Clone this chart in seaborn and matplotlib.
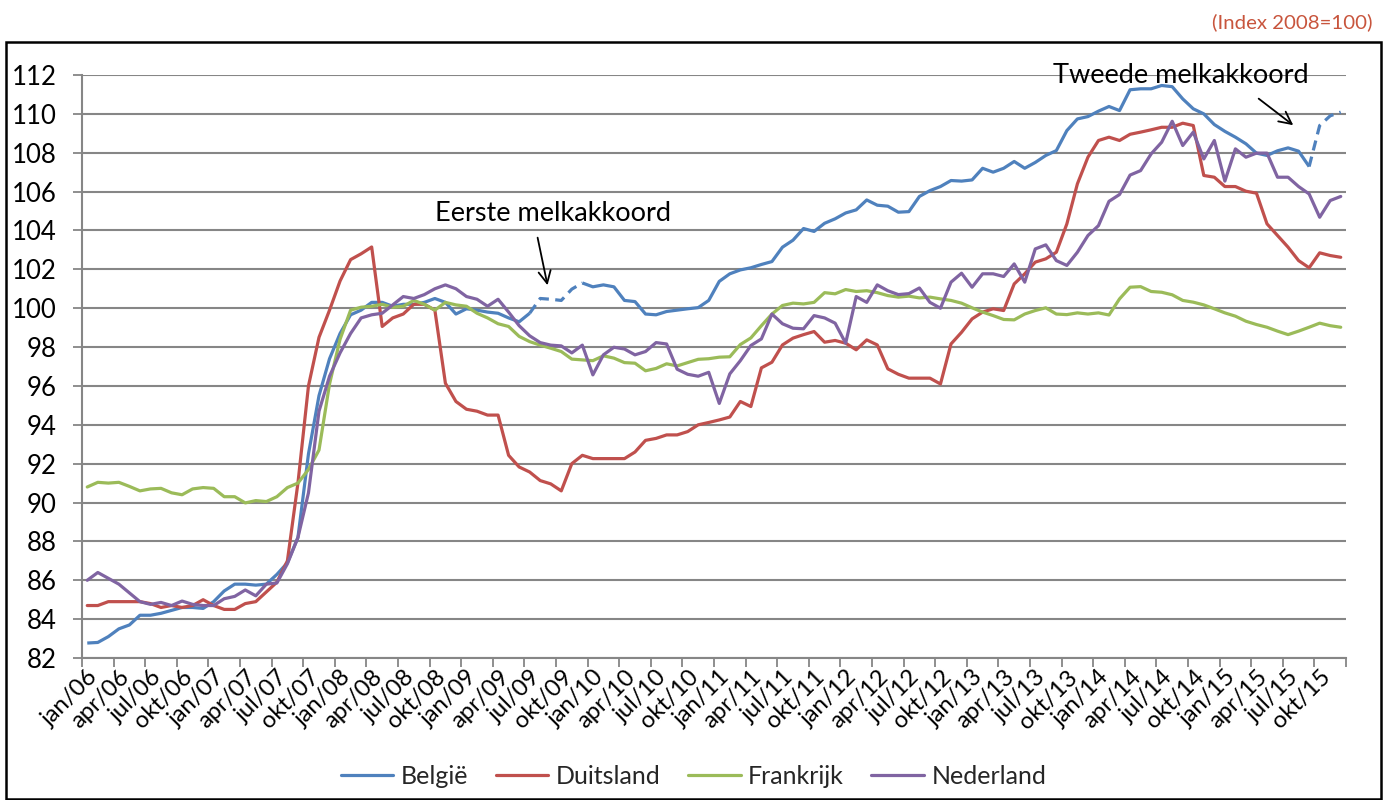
import numpy as np
import pandas as pd
import matplotlib
matplotlib.use("Agg")
import matplotlib.pyplot as plt
from matplotlib.lines import Line2D
from matplotlib.patches import Rectangle
import seaborn as sns

# ---------------- data ----------------
months = ["jan", "feb", "mrt", "apr", "mei", "jun", "jul", "aug", "sep", "okt", "nov", "dec"]
years = ["06", "07", "08", "09", "10", "11", "12", "13", "14", "15"]
categories = [f"{m}/{y}" for y in years for m in months]

belgie = [82.77, 82.8, 83.1, 83.5, 83.7, 84.2, 84.2, 84.3, 84.45, 84.6, 84.6, 84.55,
          84.9, 85.45, 85.8, 85.8, 85.75, 85.8, 86.3, 86.9, 88.2, 92.5, 95.5, 97.4,
          98.7, 99.66, 99.9, 100.3, 100.3, 100.1, 100.2, 100.2, 100.3, 100.5, 100.3, 99.7,
          99.97, 99.9, 99.8, 99.74, 99.5, 99.3, 99.74, 100.5, 100.46, 100.4, 100.98, 101.3,
          101.1, 101.2, 101.1, 100.4, 100.34, 99.7, 99.66, 99.83, 99.9, 99.97, 100.03, 100.4,
          101.38, 101.77, 101.97, 102.08, 102.25, 102.4, 103.14, 103.5, 104.1, 103.95, 104.37, 104.6,
          104.9, 105.06, 105.57, 105.3, 105.25, 104.94, 104.97, 105.75, 106.05, 106.26, 106.57, 106.54,
          106.6, 107.2, 107.0, 107.2, 107.55, 107.2, 107.5, 107.86, 108.11, 109.14, 109.74, 109.86,
          110.14, 110.38, 110.17, 111.24, 111.29, 111.29, 111.46, 111.4, 110.77, 110.26, 110.0, 109.45,
          109.1, 108.8, 108.46, 107.98, 107.86, 108.1, 108.25, 108.08, 107.29, 109.4, 109.9, 110.09]

duitsland = [84.7, 84.7, 84.9, 84.9, 84.9, 84.9, 84.8, 84.6, 84.7, 84.6, 84.7, 85.0,
             84.7, 84.5, 84.5, 84.8, 84.9, 85.4, 85.9, 87.0, 91.0, 96.0, 98.5, 99.9,
             101.4, 102.5, 102.8, 103.15, 99.06, 99.5, 99.7, 100.2, 100.2, 99.9, 96.14, 95.2,
             94.8, 94.7, 94.5, 94.5, 92.43, 91.83, 91.57, 91.13, 90.96, 90.6, 92.0, 92.43,
             92.26, 92.26, 92.26, 92.26, 92.6, 93.2, 93.3, 93.48, 93.48, 93.65, 94.0, 94.12,
             94.25, 94.4, 95.2, 94.94, 96.93, 97.22, 98.11, 98.46, 98.64, 98.8, 98.25, 98.34,
             98.2, 97.86, 98.37, 98.11, 96.88, 96.6, 96.4, 96.4, 96.4, 96.1, 98.16, 98.76,
             99.45, 99.8, 99.97, 99.88, 101.25, 101.77, 102.37, 102.54, 102.88, 104.34, 106.4, 107.77,
             108.63, 108.8, 108.63, 108.95, 109.06, 109.18, 109.31, 109.31, 109.52, 109.4, 106.83, 106.74,
             106.26, 106.26, 106.02, 105.92, 104.34, 103.74, 103.14, 102.45, 102.08, 102.85, 102.71, 102.62]

frankrijk = [90.8, 91.04, 91.0, 91.04, 90.83, 90.6, 90.7, 90.73, 90.5, 90.4, 90.7, 90.77,
             90.73, 90.3, 90.3, 89.98, 90.1, 90.05, 90.3, 90.77, 91.0, 91.7, 92.7, 96.1,
             98.4, 99.9, 100.05, 100.1, 100.2, 100.05, 100.1, 100.4, 100.2, 99.9, 100.3, 100.17,
             100.1, 99.74, 99.5, 99.2, 99.06, 98.55, 98.28, 98.1, 97.94, 97.77, 97.38, 97.34,
             97.3, 97.55, 97.43, 97.2, 97.17, 96.78, 96.9, 97.14, 97.03, 97.2, 97.37, 97.4,
             97.48, 97.5, 98.13, 98.47, 99.1, 99.7, 100.14, 100.26, 100.22, 100.3, 100.8, 100.74,
             100.96, 100.86, 100.9, 100.8, 100.65, 100.57, 100.62, 100.53, 100.57, 100.48, 100.4, 100.26,
             100.02, 99.8, 99.62, 99.42, 99.4, 99.7, 99.88, 100.02, 99.7, 99.67, 99.76, 99.7,
             99.76, 99.65, 100.48, 101.08, 101.11, 100.86, 100.82, 100.69, 100.4, 100.31, 100.17, 99.97,
             99.76, 99.59, 99.33, 99.16, 99.02, 98.82, 98.64, 98.82, 99.02, 99.23, 99.1, 99.02]

nederland = [86.0, 86.4, 86.1, 85.8, 85.35, 84.9, 84.76, 84.86, 84.7, 84.93, 84.76, 84.7,
             84.7, 85.05, 85.17, 85.5, 85.2, 85.8, 85.86, 86.85, 88.2, 90.5, 94.7, 96.5,
             97.7, 98.7, 99.5, 99.66, 99.74, 100.17, 100.6, 100.5, 100.7, 101.0, 101.2, 101.0,
             100.6, 100.46, 100.1, 100.46, 99.8, 99.1, 98.58, 98.23, 98.1, 98.06, 97.7, 98.1,
             96.57, 97.6, 97.99, 97.9, 97.6, 97.77, 98.23, 98.16, 96.86, 96.6, 96.5, 96.7,
             95.1, 96.62, 97.3, 98.08, 98.42, 99.7, 99.2, 98.97, 98.94, 99.62, 99.5, 99.23,
             98.2, 100.6, 100.3, 101.2, 100.9, 100.7, 100.75, 101.04, 100.3, 100.0, 101.34, 101.8,
             101.08, 101.77, 101.77, 101.63, 102.28, 101.34, 103.05, 103.26, 102.45, 102.2, 102.88, 103.74,
             104.25, 105.5, 105.85, 106.85, 107.08, 107.94, 108.54, 109.62, 108.37, 109.06, 107.68, 108.63,
             106.54, 108.2, 107.77, 107.98, 107.98, 106.74, 106.74, 106.26, 105.88, 104.68, 105.54, 105.75]

series_names = ["België", "Duitsland", "Frankrijk", "Nederland"]
colors = ["#4F81BD", "#C0504D", "#9BBB59", "#8064A2"]
# months (indices) between which the België line is dashed (melkakkoorden)
dashed_ranges = [(42, 47), (116, 119)]

# ---------------- figure ----------------
sns.set_theme(style="white")
plt.rcParams["font.family"] = ["Lato", "DejaVu Sans"]

fig = plt.figure(figsize=(13.87, 8.0), dpi=100)
ax = fig.add_axes([82 / 1387, 1 - 658 / 800, (1346 - 82) / 1387, (658 - 75) / 800])

idx = np.arange(len(categories))
df = pd.DataFrame({"idx": idx, "België": belgie, "Duitsland": duitsland,
                   "Frankrijk": frankrijk, "Nederland": nederland})

LW = 2.3
# België: solid parts and dashed parts
bounds = [0]
for a, b in dashed_ranges:
    bounds += [a, b]
bounds.append(len(idx) - 1)
for k in range(len(bounds) - 1):
    a, b = bounds[k], bounds[k + 1]
    if a >= b:
        continue
    seg = df.iloc[a:b + 1]
    dashed = (k % 2 == 1)
    line_ax = sns.lineplot(data=seg, x="idx", y="België", color=colors[0], lw=LW,
                           estimator=None, sort=False, ax=ax, legend=False)
    if dashed:
        line_ax.lines[-1].set_dashes((3.2, 2.0))
    line_ax.lines[-1].set_solid_capstyle("butt")

for name, col in zip(series_names[1:], colors[1:]):
    sns.lineplot(data=df, x="idx", y=name, color=col, lw=LW, estimator=None,
                 sort=False, ax=ax, legend=False)

# ---------------- axes styling ----------------
grid_c = "#868686"
ax.set_xlim(-0.5, len(idx) - 0.5)
ax.set_ylim(82, 112)
ax.set_yticks(np.arange(82, 113, 2))
ax.set_yticklabels([str(v) for v in range(82, 113, 2)])
ax.yaxis.grid(True, color=grid_c, lw=1.5)
ax.xaxis.grid(False)
ax.set_axisbelow(True)
for s in ["top", "right"]:
    ax.spines[s].set_visible(False)
for s in ["left", "bottom"]:
    ax.spines[s].set_color(grid_c)
    ax.spines[s].set_linewidth(1.5)

ax.set_xticks(np.arange(-0.5, len(idx), 3))
ax.set_xticklabels([])
ax.set_xticks(np.arange(0, len(idx), 3), minor=True)
ax.set_xticklabels([categories[i] for i in range(0, len(idx), 3)], minor=True,
                   rotation=45, ha="right", rotation_mode="anchor")
ax.tick_params(axis="x", which="major", length=6.5, width=1.3, color=grid_c, direction="out", bottom=True)
ax.tick_params(axis="x", which="minor", length=0, pad=6, labelsize=17.2, labelcolor="black")
ax.tick_params(axis="y", which="major", length=6.5, width=1.3, color=grid_c, direction="out",
               left=True, pad=12, labelsize=18.5, labelcolor="black")
ax.set_xlabel("")
ax.set_ylabel("")

# ---------------- annotations ----------------
ax.text(44.2, 104.85, "Eerste melkakkoord", ha="center", va="center", fontsize=19.5, color="black")
ax.annotate("", xy=(43.75, 101.04), xytext=(42.7, 103.77),
            arrowprops=dict(arrowstyle="->", color="black", lw=1.3, mutation_scale=22))
ax.text(103.8, 111.95, "Tweede melkakkoord", ha="center", va="center", fontsize=19.5,
        color="black", clip_on=False)
ax.annotate("", xy=(114.7, 109.33), xytext=(111.0, 110.87),
            arrowprops=dict(arrowstyle="->", color="black", lw=1.3, mutation_scale=22))

# ---------------- legend ----------------
handles = [Line2D([0], [0], color=c, lw=LW) for c in colors]
fig.legend(handles, series_names, loc="center", bbox_to_anchor=(0.5, 1 - 776 / 800), ncol=4,
           frameon=False, fontsize=18, handlelength=2.1, handletextpad=0.3, columnspacing=1.1)

# ---------------- frame and subtitle ----------------
fig.patches.append(Rectangle((6 / 1387, 1 / 800), (1381 - 6) / 1387, (799 - 42) / 800,
                             transform=fig.transFigure, fill=False, edgecolor="black", lw=1.8))
fig.text(1372 / 1387, 1 - 22 / 800, "(Index 2008=100)", ha="right", va="center",
         fontsize=14.7, color="#C8553D")

fig.savefig("out.png", dpi=100)
